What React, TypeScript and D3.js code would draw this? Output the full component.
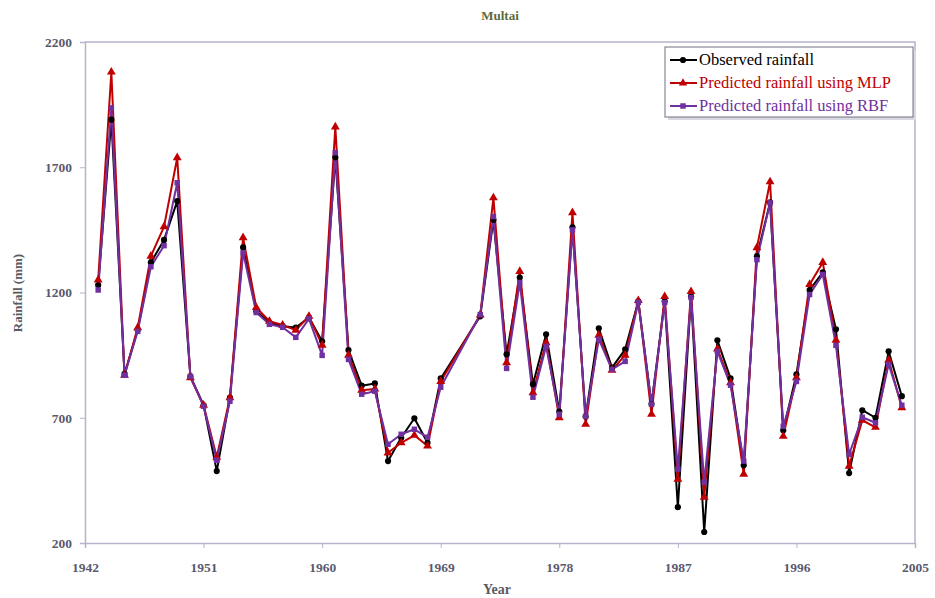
import React, { useEffect, useRef } from "react";
import * as d3 from "d3";

// Years with data (1970 and 1971 are missing in the source series)
const years = [
  1943, 1944, 1945, 1946, 1947, 1948, 1949, 1950, 1951, 1952, 1953, 1954, 1955, 1956, 1957,
  1958, 1959, 1960, 1961, 1962, 1963, 1964, 1965, 1966, 1967, 1968, 1969, 1972, 1973, 1974,
  1975, 1976, 1977, 1978, 1979, 1980, 1981, 1982, 1983, 1984, 1985, 1986, 1987, 1988, 1989,
  1990, 1991, 1992, 1993, 1994, 1995, 1996, 1997, 1998, 1999, 2000, 2001, 2002, 2003, 2004,
];

const observed = [
  1230, 1890, 875, 1050, 1320, 1410, 1565, 865, 750, 487, 780, 1380, 1125, 1080, 1065,
  1060, 1100, 1005, 1740, 970, 828, 837, 527, 620, 698, 600, 857, 1105, 1490, 953,
  1260, 834, 1033, 725, 1460, 705, 1057, 900, 973, 1165, 755, 1165, 343, 1185, 244,
  1009, 857, 510, 1345, 1560, 650, 873, 1210, 1280, 1053, 479, 730, 700, 965, 786,
];

const mlp = [
  1250, 2080, 870, 1060, 1345, 1463, 1738, 860, 750, 543, 780, 1419, 1140, 1085, 1070,
  1050, 1105, 990, 1861, 950, 810, 815, 560, 600, 630, 587, 845, 1110, 1578, 920,
  1284, 800, 1000, 700, 1519, 674, 1030, 890, 950, 1168, 714, 1184, 455, 1204, 383,
  975, 840, 475, 1379, 1642, 626, 860, 1232, 1320, 1010, 507, 690, 662, 930, 740,
];

const rbf = [
  1210, 1937, 870, 1045, 1303, 1387, 1638, 865, 746, 530, 766, 1359, 1120, 1073, 1061,
  1021, 1095, 949, 1758, 933, 794, 806, 594, 634, 654, 622, 822, 1112, 1503, 897,
  1240, 782, 985, 714, 1450, 706, 1013, 893, 925, 1160, 754, 1160, 495, 1180, 443,
  965, 830, 527, 1331, 1558, 666, 845, 1192, 1272, 989, 554, 702, 680, 913, 750,
];

const xTicks = [1942, 1951, 1960, 1969, 1978, 1987, 1996, 2005];
const yTicks = [200, 700, 1200, 1700, 2200];

const seriesNames = ["Observed rainfall", "Predicted rainfall using MLP", "Predicted rainfall using RBF"];
const seriesColors = ["#000000", "#c00000", "#7030a0"];
const seriesMarkers = ["circle", "triangle", "square"];

export default function App() {
  const svgRef = useRef<SVGSVGElement>(null);

  useEffect(() => {
    if (!svgRef.current) return;
    const W = 935, H = 598;
    const svg = d3.select(svgRef.current);
    svg.selectAll("*").remove();
    svg.attr("width", W).attr("height", H);

    const left = 85, right = 915, top = 42, bottom = 543;
    const font = "'Liberation Serif', 'DejaVu Serif', serif";
    const axisColor = "#b4b4cc";
    const tickText = "#5a5a70";

    const x = d3.scaleLinear().domain([1942, 2005]).range([left, right]);
    const y = d3.scaleLinear().domain([200, 2200]).range([bottom, top]);

    svg.append("rect").attr("width", W).attr("height", H).attr("fill", "#ffffff");

    // plot frame: top and right borders
    svg.append("path")
      .attr("d", `M${left},${top}H${right}V${bottom}`)
      .attr("fill", "none").attr("stroke", axisColor).attr("stroke-width", 1.5);

    // axes
    const gx = svg.append("g").attr("transform", `translate(0,${bottom})`)
      .call(d3.axisBottom(x).tickValues(xTicks).tickFormat(d3.format("d")).tickSize(5).tickPadding(14));
    const gy = svg.append("g").attr("transform", `translate(${left},0)`)
      .call(d3.axisLeft(y).tickValues(yTicks).tickFormat(d3.format("d")).tickSize(5).tickPadding(8));
    [gx, gy].forEach(g => {
      g.select(".domain").attr("stroke", axisColor).attr("stroke-width", 1.5);
      g.selectAll(".tick line").attr("stroke", axisColor);
      g.selectAll("text").attr("fill", tickText).style("font-family", font)
        .style("font-size", "13.5px").style("font-weight", "bold");
    });

    // series
    const all = [observed, mlp, rbf];
    const line = d3.line<number>().x((_, i) => x(years[i])).y(d => y(d));
    const symbolType: Record<string, d3.SymbolType> = {
      circle: d3.symbolCircle, triangle: d3.symbolTriangle, square: d3.symbolSquare,
    };

    all.forEach((vals, si) => {
      svg.append("path").datum(vals)
        .attr("fill", "none").attr("stroke", seriesColors[si]).attr("stroke-width", 2)
        .attr("stroke-linejoin", "round").attr("d", line);
    });
    all.forEach((vals, si) => {
      const sym = d3.symbol().type(symbolType[seriesMarkers[si]]).size(si === 1 ? 34 : 30);
      svg.append("g").selectAll("path").data(vals).join("path")
        .attr("transform", (d, i) => `translate(${x(years[i])},${y(d)})`)
        .attr("d", sym()).attr("fill", seriesColors[si]);
    });

    // legend
    const lx = 665, ly = 47, lw = 248, lh = 70;
    svg.append("rect").attr("x", lx + 3).attr("y", ly + 3).attr("width", lw).attr("height", lh)
      .attr("fill", "#d8d8e0");
    svg.append("rect").attr("x", lx).attr("y", ly).attr("width", lw).attr("height", lh)
      .attr("fill", "#ffffff").attr("stroke", "#707080").attr("stroke-width", 1);
    seriesNames.forEach((name, i) => {
      const cy = ly + 13 + i * 23;
      svg.append("line").attr("x1", lx + 5).attr("x2", lx + 32).attr("y1", cy).attr("y2", cy)
        .attr("stroke", seriesColors[i]).attr("stroke-width", 2);
      const sym = d3.symbol().type(symbolType[seriesMarkers[i]]).size(30);
      svg.append("path").attr("transform", `translate(${lx + 18},${cy})`)
        .attr("d", sym()).attr("fill", seriesColors[i]);
      svg.append("text").attr("x", lx + 34).attr("y", cy + 5)
        .style("font-family", font).style("font-size", "16.5px")
        .attr("fill", seriesColors[i]).text(name);
    });

    // titles
    svg.append("text").attr("x", (left + right) / 2).attr("y", 20).attr("text-anchor", "middle")
      .style("font-family", font).style("font-size", "13px").style("font-weight", "bold")
      .attr("fill", "#5c6b3c").text("Multai");
    svg.append("text").attr("x", (left + right) / 2 - 3).attr("y", 594).attr("text-anchor", "middle")
      .style("font-family", font).style("font-size", "14px").style("font-weight", "bold")
      .attr("fill", "#5a5a60").text("Year");
    svg.append("text").attr("transform", "rotate(-90)").attr("x", -293).attr("y", 22)
      .attr("text-anchor", "middle")
      .style("font-family", font).style("font-size", "13px").style("font-weight", "bold")
      .attr("fill", "#5a5a60").text("Rainfall (mm)");
  }, []);

  return (
    <div style={{ position: "absolute", left: 0, top: 0 }}>
      <svg ref={svgRef} style={{ display: "block" }}></svg>
    </div>
  );
}
